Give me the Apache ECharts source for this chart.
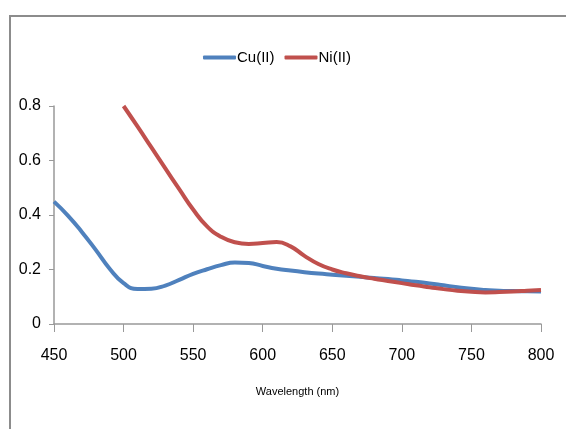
<!DOCTYPE html>
<html><head><meta charset="utf-8">
<script src="https://cdn.jsdelivr.net/npm/echarts@6/dist/echarts.min.js"></script>
<style>html,body{margin:0;padding:0;background:#fff}#c{width:566px;height:429px}</style>
</head><body><div id="c"></div>
<script>
const seriesNames = ['Cu(II)', 'Ni(II)'];
const cuX = [450, 460, 470, 480, 490, 500, 510, 520, 530, 540, 550, 560, 570, 580, 590, 600, 610, 620, 630, 640, 650, 660, 670, 680, 690, 700, 710, 720, 730, 740, 750, 760, 770, 780, 790, 800];
const cuY = [0.449, 0.398, 0.338, 0.272, 0.203, 0.150, 0.128, 0.129, 0.141, 0.162, 0.184, 0.201, 0.216, 0.226, 0.224, 0.213, 0.203, 0.196, 0.190, 0.185, 0.181, 0.177, 0.173, 0.169, 0.165, 0.160, 0.155, 0.149, 0.142, 0.135, 0.129, 0.125, 0.122, 0.121, 0.120, 0.119];
const niX = [500, 510, 520, 530, 540, 550, 560, 570, 580, 590, 600, 610, 620, 630, 640, 650, 660, 670, 680, 690, 700, 710, 720, 730, 740, 750, 760, 770, 780, 790, 800];
const niY = [0.800, 0.725, 0.648, 0.571, 0.495, 0.420, 0.358, 0.320, 0.300, 0.294, 0.297, 0.301, 0.285, 0.250, 0.220, 0.200, 0.186, 0.175, 0.166, 0.158, 0.150, 0.142, 0.135, 0.128, 0.122, 0.118, 0.116, 0.117, 0.119, 0.122, 0.125];
const yTicks = [0, 0.2, 0.4, 0.6, 0.8];
const xTicks = [450, 500, 550, 600, 650, 700, 750, 800];
const xTitle = 'Wavelength (nm)';

const font = '"Liberation Sans", Arial, sans-serif';
const chart = echarts.init(document.getElementById('c'));
chart.setOption({
  animation: false,
  color: ['#4F81BD', '#C0504D'],
  graphic: [{
    type: 'rect', left: 9, top: 15, silent: true, z: -1,
    shape: { width: 600, height: 450 },
    style: { fill: '#fff', stroke: '#8c8c8c', lineWidth: 2 }
  }],
  legend: {
    top: 45, left: 198, itemWidth: 33, itemHeight: 4, itemGap: 10,
    icon: 'roundRect',
    textStyle: { fontFamily: font, fontSize: 15, color: '#000', padding: [0, 0, 0, -4] },
    data: seriesNames
  },
  grid: { left: 54, right: 25, top: 106, bottom: 105 },
  xAxis: {
    type: 'value', min: xTicks[0], max: xTicks[xTicks.length - 1], interval: 50,
    name: xTitle, nameLocation: 'middle', nameGap: 62,
    nameTextStyle: { fontFamily: font, fontSize: 11, color: '#000' },
    axisLine: { lineStyle: { color: '#999', width: 1.5 } },
    axisTick: { length: 8, lineStyle: { color: '#999' } },
    axisLabel: { fontFamily: font, fontSize: 16, color: '#000', margin: 24 },
    splitLine: { show: false }
  },
  yAxis: {
    type: 'value', min: yTicks[0], max: yTicks[yTicks.length - 1], interval: 0.2,
    axisLine: { show: true, lineStyle: { color: '#999', width: 1.5 } },
    axisTick: { show: true, length: 5, lineStyle: { color: '#999' } },
    axisLabel: { fontFamily: font, fontSize: 16, color: '#000', margin: 13 },
    splitLine: { show: false }
  },
  series: [
    { name: seriesNames[0], type: 'line', smooth: 0.5, showSymbol: false,
      lineStyle: { width: 4 }, data: cuX.map((x, i) => [x, cuY[i]]) },
    { name: seriesNames[1], type: 'line', smooth: 0.5, showSymbol: false,
      lineStyle: { width: 4 }, data: niX.map((x, i) => [x, niY[i]]) }
  ]
});
</script></body></html>
